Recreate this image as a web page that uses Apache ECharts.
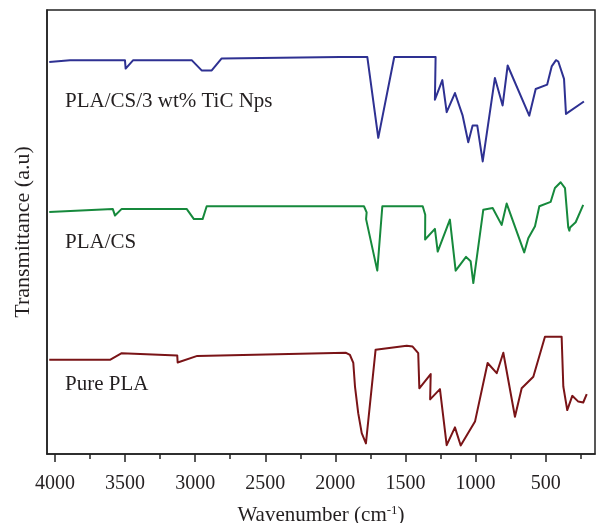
<!DOCTYPE html>
<html>
<head>
<meta charset="utf-8">
<script src="https://cdn.jsdelivr.net/npm/echarts@6/dist/echarts.min.js"></script>
<style>
  html, body { margin: 0; padding: 0; background: #fff; }
  #chart { width: 600px; height: 523px; }
</style>
</head>
<body>
<div id="chart"></div>
<script>
// FTIR spectra: wavenumber (cm-1) vs. transmittance (arbitrary units, stacked)
const majorTicks = [4000, 3500, 3000, 2500, 2000, 1500, 1000, 500];
const minorTicks = [3750, 3250, 2750, 2250, 1750, 1250, 750, 250];

const tiCWn = [4041,3893,3501,3496,3442,3025,2954,2882,2811,1967,1772,1694,1580,1285,1290,1237,1206,1147,1092,1052,1021,988,949,862,807,771,617,571,489,457,426,410,369,355,227];
const tiCT  = [88.3,88.7,88.7,86.8,88.7,88.7,86.4,86.4,89.1,89.4,89.4,71.2,89.4,89.4,79.8,84.2,77.0,81.3,76.2,70.2,74.0,74.0,65.9,84.7,78.5,87.5,76.2,82.2,83.2,87.3,88.7,88.4,84.5,76.6,79.4];

const csWn = [4041,3588,3572,3524,3061,3009,2947,2918,1796,1777,1781,1701,1665,1377,1359,1360,1290,1270,1183,1142,1068,1035,1016,945,878,814,778,653,624,576,545,464,434,393,362,339,331,326,286,232];
const csT  = [54.5,55.2,53.7,55.2,55.2,52.9,52.9,55.8,55.8,54.4,52.9,41.3,55.8,55.8,53.9,48.3,50.7,45.6,52.8,41.3,44.4,43.4,38.5,55.0,55.4,51.6,56.4,45.4,48.6,51.3,55.8,56.8,59.9,61.2,59.9,51.1,50.3,51.0,52.2,56.1];

const plaWn = [4041,3608,3524,3128,3125,2985,1924,1896,1872,1860,1837,1812,1782,1713,1491,1449,1409,1401,1320,1324,1254,1206,1147,1106,1004,914,849,802,719,671,588,505,386,374,346,310,267,232,207];
const plaT  = [21.2,21.2,22.7,22.2,20.6,22.1,22.8,22.3,20.5,15.2,9.2,4.7,2.4,23.5,24.4,24.2,22.7,14.8,18.0,12.3,14.6,2.0,6.0,1.9,7.3,20.5,18.2,22.8,8.4,14.8,17.4,26.4,26.4,15.2,9.9,13.1,11.8,11.6,13.5];

const seriesNames = ['PLA/CS/3 wt% TiC Nps', 'PLA/CS', 'Pure PLA'];
const seriesColors = ['#2e3192', '#16893c', '#7a1417'];

const pairs = (xs, ys) => xs.map((x, i) => [x, ys[i]]);
const FONT = '"Liberation Serif", "DejaVu Serif", serif';
const INK = '#231f20';

const chart = echarts.init(document.getElementById('chart'), null, { renderer: 'canvas' });

const lineSeries = (name, data, color) => ({
  name, type: 'line', data,
  xAxisIndex: 0, yAxisIndex: 0,
  showSymbol: false, symbol: 'none',
  lineStyle: { color, width: 2, join: 'round' },
  silent: true
});

chart.setOption({
  animation: false,
  backgroundColor: '#fff',
  grid: {
    left: 47, right: 5, top: 10, bottom: 69,
    containLabel: false, outerBoundsMode: 'none',
    show: true, borderColor: '#222', borderWidth: 1.5, backgroundColor: 'transparent'
  },
  xAxis: [
    {
      type: 'value', inverse: true, min: 148, max: 4057,
      position: 'bottom',
      name: 'Wavenumber (cm{sup|-1})',
      nameLocation: 'middle', nameGap: 50,
      nameTextStyle: {
        fontFamily: FONT, fontSize: 21, color: INK,
        rich: { sup: { fontFamily: FONT, fontSize: 13, color: INK, verticalAlign: 'top', padding: [0, 0, 10, 0] } }
      },
      axisLine: { show: true, lineStyle: { color: '#222', width: 1.5 } },
      axisTick: { show: true, length: 8, lineStyle: { color: '#222', width: 1.5 }, customValues: majorTicks },
      axisLabel: {
        show: true, margin: 20, fontFamily: FONT, fontSize: 20, color: INK,
        customValues: majorTicks, formatter: v => String(v)
      },
      splitLine: { show: false }
    },
    {
      type: 'value', inverse: true, min: 148, max: 4057,
      position: 'bottom', offset: 0,
      axisLine: { show: false },
      axisTick: { show: true, length: 5, lineStyle: { color: '#222', width: 1.5 }, customValues: minorTicks },
      axisLabel: { show: false },
      splitLine: { show: false }
    }
  ],
  yAxis: {
    type: 'value', min: 0, max: 100,
    name: 'Transmittance (a.u)',
    nameLocation: 'middle', nameGap: 13,
    nameTextStyle: { fontFamily: FONT, fontSize: 22, color: INK },
    axisLine: { show: true, lineStyle: { color: '#222', width: 1.5 } },
    axisTick: { show: false },
    axisLabel: { show: false },
    splitLine: { show: false }
  },
  series: [
    lineSeries(seriesNames[0], pairs(tiCWn, tiCT), seriesColors[0]),
    lineSeries(seriesNames[1], pairs(csWn, csT), seriesColors[1]),
    lineSeries(seriesNames[2], pairs(plaWn, plaT), seriesColors[2])
  ],
  graphic: [
    { type: 'text', left: 65, top: 91, style: { text: seriesNames[0], font: '21px ' + FONT, fill: INK } },
    { type: 'text', left: 65, top: 232, style: { text: seriesNames[1], font: '21px ' + FONT, fill: INK } },
    { type: 'text', left: 65, top: 374, style: { text: seriesNames[2], font: '21px ' + FONT, fill: INK } }
  ]
});
</script>
</body>
</html>
